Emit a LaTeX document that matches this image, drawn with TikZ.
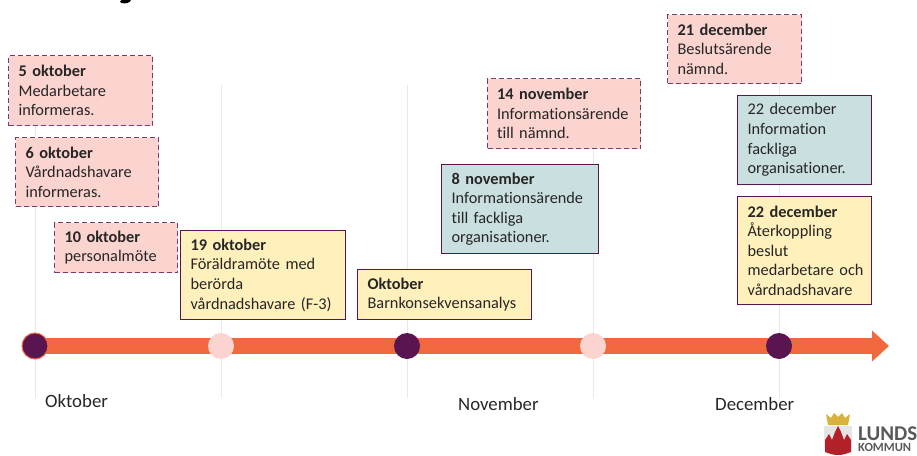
\documentclass[tikz,border=0pt]{standalone}
\usepackage{fontspec}
\setmainfont{Carlito}[Ligatures=NoCommon]
\usepackage{xcolor}
\usetikzlibrary{arrows.meta}
\definecolor{rosa}{HTML}{FBD3CF}
\definecolor{lila}{HTML}{5A1450}
\definecolor{ljuslila}{HTML}{7A3A74}
\definecolor{teal}{HTML}{CADFDF}
\definecolor{gul}{HTML}{FFF0BC}
\definecolor{orange}{HTML}{F0693E}
\definecolor{grid}{HTML}{E2ECEC}
\definecolor{text}{HTML}{262626}
\definecolor{krona}{HTML}{D8B23C}
\definecolor{sigill}{HTML}{B3202A}
\tikzset{
  evt/.style={draw,anchor=north west,align=left,text=text,inner xsep=10pt,inner ysep=0pt,
    font=\fontsize{16.3}{19.6}\selectfont},
  pink/.style={evt,fill=rosa,draw=ljuslila,line width=1.2pt,dash pattern=on 5pt off 3pt},
  blue/.style={evt,fill=teal,draw=lila,line width=1.2pt},
  yellow/.style={evt,fill=gul,draw=lila,line width=1.2pt},
  dark/.style={circle,fill=lila,minimum size=26pt,inner sep=0pt},
  light/.style={circle,fill=rosa,minimum size=26pt,inner sep=0pt},
  month/.style={anchor=west,text=text,inner sep=0pt,font=\fontsize{18.8}{20}\selectfont},
  logotext/.style={anchor=base west,inner sep=0pt,text=black!65},
  gridline/.style={grid,line width=0.9pt}
}
\begin{document}
\begin{tikzpicture}[x=1pt,y=-1pt]
        \useasboundingbox (0,0) rectangle (917,455);
        % tidslinje
        \coordinate (s) at (35,346);
        \coordinate (e) at (889,346);
        \coordinate (t1) at (35,125);
        \coordinate (b1) at (35,398);
        \coordinate (t2) at (221,85);
        \coordinate (b2) at (221,398);
        \coordinate (t3) at (407,85);
        \coordinate (b3) at (407,398);
        \coordinate (t4) at (593,85);
        \coordinate (b4) at (593,398);
        \coordinate (t5) at (779,83);
        \coordinate (b5) at (779,398);

        \draw [gridline] (t1) to (b1);
        \draw [gridline] (t2) to (b2);
        \draw [gridline] (t3) to (b3);
        \draw [gridline] (t4) to (b4);
        \draw [gridline] (t5) to (b5);

        \draw [orange,line width=15.5pt,-{Triangle[length=17pt,width=30pt]}] (s) to (e);

        \node[dark,draw=orange,line width=1pt] (c1) at (s) {};
        \node[light] (c2) at (221,346) {};
        \node[dark] (c3) at (407,346) {};
        \node[light] (c4) at (593,346) {};
        \node[dark] (c5) at (779,346) {};

        % rutor
        \node[pink,text width=124pt,minimum height=70pt] (a) at (8,55) {\textbf{5 oktober}\\Medarbetare\\informeras.};
        \node[pink,text width=123pt,minimum height=69pt] (b) at (15,137) {\textbf{6 oktober}\\Vårdnadshavare\\informeras.};
        \node[pink,text width=103pt,minimum height=50pt] (c) at (54,222) {\textbf{10 oktober}\\personalmöte};
        \node[yellow,text width=145pt,minimum height=89pt] (d) at (180,230) {\textbf{19 oktober}\\Föräldramöte med\\berörda\\vårdnadshavare (F-3)};
        \node[yellow,text width=154pt,minimum height=50pt] (f) at (357,269) {\textbf{Oktober}\\Barnkonsekvensanalys};
        \node[blue,text width=137pt,minimum height=89pt] (g) at (441,164) {\textbf{8 november}\\Informationsärende\\till fackliga\\organisationer.};
        \node[pink,text width=134pt,minimum height=70pt,inner xsep=9.5pt] (h) at (487,78) {\textbf{14 november}\\Informationsärende\\till nämnd.};
        \node[pink,text width=114pt,minimum height=69pt] (i) at (667,14) {\textbf{21 december}\\Beslutsärende\\nämnd.};
        \node[blue,text width=114pt,minimum height=89pt] (j) at (737,95) {22 december\\Information\\fackliga\\organisationer.};
        \node[yellow,text width=114pt,minimum height=108pt] (k) at (737,196) {\textbf{22 december}\\Återkoppling\\beslut\\\mbox{medarbetare och}\\vårdnadshavare};

        % manader
        \node[month] (okt) at (45,401) {Oktober};
        \node[month] (nov) at (458,404) {November};
        \node[month] (dec) at (715,404) {December};

        % rest av rubriken
        \fill [black] (122,0) -- (131,0) .. controls (130,3) and (126,4) .. (121,3) -- (120,1) -- cycle;

        % logotyp
        \fill [gray!20] (824,426) rectangle (852,445) .. controls (852,452) and (844,455) .. (838,455) .. controls (832,455) and (824,452) .. (824,445) -- cycle;
        \fill [krona] (826,414) -- (831,418) -- (834,413) -- (838,417) -- (842,413) -- (845,418) -- (850,414) -- (848,425) -- (828,425) -- cycle;
        \fill [sigill] (825,452) -- (825,440) -- (829,434) -- (832,440) -- (835,432) -- (838,426) -- (841,432) -- (844,440) -- (847,434) -- (851,440) -- (851,452) .. controls (846,454) and (842,455) .. (838,455) .. controls (834,455) and (830,454) .. (825,452) -- cycle;
        \node[logotext,font=\fontsize{21}{20}\bfseries\selectfont] (l1) at (858,440) {LUNDS};
        \node[logotext,font=\fontsize{12.5}{12}\bfseries\selectfont] (l2) at (858,451) {KOMMUN};
    \end{tikzpicture}
\end{document}
